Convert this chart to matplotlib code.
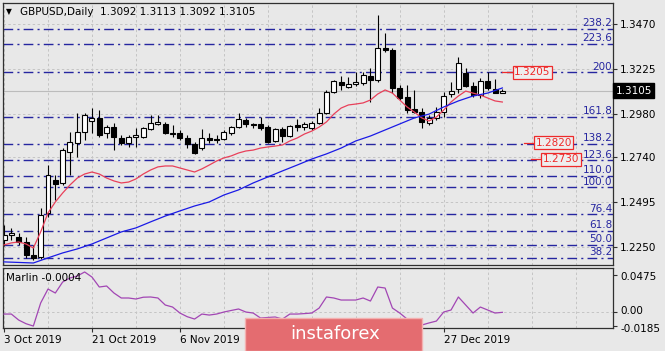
import matplotlib
matplotlib.use('Agg')
import matplotlib.pyplot as plt
import matplotlib.transforms as mtransforms
from matplotlib.patches import Rectangle

# GBPUSD daily bars from 3 Oct 2019
opens = [1.2288, 1.2316, 1.2305, 1.2277, 1.2206, 1.2195, 1.2436, 1.2616, 1.2600, 1.2770,
         1.2819, 1.2879, 1.2939, 1.2956, 1.2873, 1.2906, 1.2846, 1.2819, 1.2852, 1.2852,
         1.2895, 1.2923, 1.2923, 1.2873, 1.2873, 1.2846, 1.2813, 1.2791, 1.2846, 1.2841,
         1.2841, 1.2873, 1.2906, 1.2945, 1.2920, 1.2923, 1.2906, 1.2830, 1.2895, 1.2857,
         1.2917, 1.2906, 1.2901, 1.2928, 1.2983, 1.3098, 1.3152, 1.3125, 1.3142, 1.3147,
         1.3185, 1.3163, 1.3339, 1.3328, 1.3120, 1.3070, 1.3005, 1.2988, 1.2928, 1.2956,
         1.2988, 1.3087, 1.3114, 1.3202, 1.3131, 1.3081, 1.3158, 1.3114, 1.3092]
highs = [1.2370, 1.2354, 1.2326, 1.2305, 1.2261, 1.2463, 1.2698, 1.2644, 1.2791, 1.2879,
         1.2983, 1.2983, 1.3010, 1.2999, 1.2917, 1.2928, 1.2863, 1.2863, 1.2901, 1.2906,
         1.2972, 1.2972, 1.2934, 1.2917, 1.2890, 1.2863, 1.2824, 1.2895, 1.2873, 1.2863,
         1.2890, 1.2912, 1.2983, 1.2956, 1.2928, 1.2961, 1.2917, 1.2901, 1.2906, 1.2917,
         1.2950, 1.2934, 1.2939, 1.3010, 1.3109, 1.3163, 1.3185, 1.3180, 1.3207, 1.3207,
         1.3229, 1.3519, 1.3420, 1.3339, 1.3136, 1.3136, 1.3109, 1.3010, 1.2972, 1.3016,
         1.3098, 1.3152, 1.3289, 1.3229, 1.3152, 1.3174, 1.3207, 1.3169, 1.3113]
lows = [1.2255, 1.2288, 1.2261, 1.2190, 1.2179, 1.2184, 1.2414, 1.2507, 1.2589, 1.2644,
        1.2742, 1.2835, 1.2873, 1.2852, 1.2846, 1.2780, 1.2808, 1.2797, 1.2797, 1.2846,
        1.2890, 1.2917, 1.2868, 1.2852, 1.2835, 1.2791, 1.2760, 1.2780, 1.2819, 1.2819,
        1.2835, 1.2863, 1.2901, 1.2906, 1.2901, 1.2890, 1.2819, 1.2824, 1.2824, 1.2852,
        1.2884, 1.2890, 1.2890, 1.2923, 1.2978, 1.3092, 1.3109, 1.3120, 1.3131, 1.3136,
        1.3043, 1.3152, 1.3317, 1.3092, 1.3054, 1.2983, 1.2983, 1.2901, 1.2917, 1.2945,
        1.2961, 1.3070, 1.3092, 1.3125, 1.3070, 1.3065, 1.3109, 1.3092, 1.3092]
closes = [1.2316, 1.2326, 1.2277, 1.2206, 1.2190, 1.2425, 1.2644, 1.2595, 1.2780, 1.2824,
          1.2879, 1.2972, 1.2956, 1.2863, 1.2906, 1.2852, 1.2819, 1.2852, 1.2863, 1.2901,
          1.2928, 1.2934, 1.2873, 1.2868, 1.2846, 1.2813, 1.2764, 1.2846, 1.2835, 1.2835,
          1.2879, 1.2906, 1.2950, 1.2923, 1.2917, 1.2901, 1.2824, 1.2895, 1.2857, 1.2912,
          1.2906, 1.2923, 1.2928, 1.2983, 1.3098, 1.3158, 1.3136, 1.3142, 1.3152, 1.3191,
          1.3163, 1.3339, 1.3328, 1.3120, 1.3065, 1.2999, 1.2988, 1.2934, 1.2956, 1.2988,
          1.3076, 1.3103, 1.3256, 1.3131, 1.3081, 1.3158, 1.3120, 1.3092, 1.3105]

# red (fast) moving average, one value per bar
ma_fast = [1.2261, 1.2272, 1.2277, 1.2266, 1.2244, 1.2332, 1.2436, 1.2496, 1.2545, 1.2589,
           1.2627, 1.2649, 1.2660, 1.2649, 1.2627, 1.2611, 1.2600, 1.2605, 1.2622, 1.2649,
           1.2671, 1.2688, 1.2693, 1.2693, 1.2682, 1.2671, 1.2660, 1.2677, 1.2698, 1.2720,
           1.2737, 1.2748, 1.2764, 1.2775, 1.2780, 1.2791, 1.2797, 1.2802, 1.2808, 1.2830,
           1.2846, 1.2868, 1.2884, 1.2906, 1.2934, 1.2977, 1.3010, 1.3027, 1.3032, 1.3038,
           1.3054, 1.3087, 1.3109, 1.3092, 1.3054, 1.3016, 1.2988, 1.2956, 1.2939, 1.2961,
           1.2999, 1.3043, 1.3076, 1.3103, 1.3092, 1.3081, 1.3065, 1.3049, 1.3043]

# blue (slow) moving average, read every other bar
ma_slow_idx = [0, 4, 6, 8, 10, 12, 14, 16, 18, 20, 22, 24, 26, 28, 30, 32, 34,
               36, 38, 40, 42, 44, 46, 48, 50, 52, 54, 56, 58, 60, 62, 64, 66, 68]
ma_slow = [1.2168, 1.2162, 1.2190, 1.2217, 1.2239, 1.2266, 1.2299, 1.2332, 1.2354, 1.2387,
           1.2419, 1.2447, 1.2474, 1.2496, 1.2534, 1.2562, 1.2600, 1.2633, 1.2666, 1.2698,
           1.2731, 1.2759, 1.2791, 1.2830, 1.2857, 1.2890, 1.2923, 1.2956, 1.2977, 1.3016,
           1.3049, 1.3076, 1.3092, 1.3120]

# Marlin oscillator
marlin = [-0.0026, -0.0026, -0.0103, -0.0150, -0.0180, 0.0116, 0.0295, 0.0244, 0.0385, 0.0437,
          0.0462, 0.0514, 0.0449, 0.0321, 0.0334, 0.0244, 0.0180, 0.0180, 0.0167, 0.0190,
          0.0193, 0.0180, 0.0090, 0.0064, -0.0013, -0.0060, -0.0090, -0.0026, -0.0039, -0.0026,
          0.0000, 0.0020, 0.0039, 0.0000, -0.0013, -0.0077, -0.0070, -0.0064, -0.0090, -0.0026,
          -0.0026, -0.0020, -0.0013, 0.0051, 0.0193, 0.0180, 0.0154, 0.0154, 0.0154, 0.0180,
          0.0141, 0.0321, 0.0308, 0.0051, -0.0013, -0.0090, -0.0141, -0.0167, -0.0140, -0.0116,
          0.0000, 0.0026, 0.0193, 0.0090, -0.0013, 0.0064, 0.0026, -0.0013, -0.0004]

# fibonacci levels
fib_labels = ['238.2', '223.6', '200', '161.8', '138.2', '123.6', '110.0', '100.0',
              '76.4', '61.8', '50.0', '38.2']
fib_prices = [1.3443, 1.3361, 1.3205, 1.2963, 1.2816, 1.2724, 1.2638, 1.2577,
              1.2429, 1.2337, 1.2263, 1.2190]

# target levels marked in red
targets = [1.3205, 1.2820, 1.2730]
target_labels = ['1.3205', '1.2820', '1.2730']

price_ticks = [1.3470, 1.3225, 1.2980, 1.2740, 1.2495, 1.2250]
marlin_ticks = [0.0475, 0.0, -0.0185]
marlin_tick_labels = ['0.0475', '0.00', '-0.0185']
date_pos = [0, 12, 24, 60]
date_labels = ['3 Oct 2019', '21 Oct 2019', '6 Nov 2019', '27 Dec 2019']
last_price = 1.3105

BG = '#e8e8e8'
FIB_C = '#2626a0'
RED = '#ee2a2a'
plt.rcParams['font.family'] = ['DejaVu Sans']
plt.rcParams['font.size'] = 7.5

W, H = 665, 351


def fx(px):
    return px / W


def fy(py):
    return 1 - py / H


fig = plt.figure(figsize=(W / 100, H / 100), dpi=100, facecolor=BG)
ax = fig.add_axes([fx(3), fy(265), 610 / W, 262 / H], facecolor=BG)
ax2 = fig.add_axes([fx(3), fy(328), 610 / W, 60 / H], facecolor=BG)

xmin, xmax = -0.14, 83.1
for a in (ax, ax2):
    a.set_xlim(xmin, xmax)
    for s in a.spines.values():
        s.set_color('#303030')
        s.set_linewidth(0.9)
    for k in range(0, 84, 6):
        a.axvline(k, color='#c4c4c4', lw=0.7, ls=(0, (2.5, 2.5)), zorder=0)

# ---- main panel
ax.set_ylim(1.2151, 1.3585)
ax.set_xticks([])
ax.yaxis.tick_right()
ax.set_yticks(price_ticks)
ax.set_yticklabels(['%.4f' % p for p in price_ticks])
ax.tick_params(axis='y', length=3, pad=2, labelsize=7.5, color='#303030')
for p in price_ticks:
    ax.axhline(p, color='#c4c4c4', lw=0.7, ls=(0, (2.5, 2.5)), zorder=0)

for lbl, p in zip(fib_labels, fib_prices):
    ax.axhline(p, color=FIB_C, lw=1.0, dashes=(7, 3, 1.5, 3), zorder=1)
    ax.text(xmax - 0.1, p + 0.0003, lbl, color=FIB_C, ha='right', va='bottom',
            fontsize=7.5, zorder=1)

ax.axhline(last_price, color='#bcbcbc', lw=0.8, zorder=1)

xs = list(range(len(closes)))
ax.vlines(xs, lows, highs, color='black', lw=0.8, zorder=2)
for i in xs:
    o, c = opens[i], closes[i]
    bottom = min(o, c)
    height = max(abs(c - o), 0.00015)
    ax.add_patch(Rectangle((i - 0.34, bottom), 0.68, height,
                           facecolor='white' if c >= o else 'black',
                           edgecolor='black', lw=0.8, zorder=2))

ax.plot(xs, ma_fast, color='#e8405a', lw=0.9, zorder=3)
ax.plot(ma_slow_idx, ma_slow, color='#1a1ae6', lw=0.9, zorder=3)

# red target labels
label_x = [69.5, 72.4, 73.4]
for p, t, lx in zip(targets, target_labels, label_x):
    ax.plot([lx - 1.5, lx], [p, p], color=RED, lw=0.9, zorder=4)
    ax.text(lx + 0.1, p, t, color=RED, ha='left', va='center', fontsize=7.5, zorder=5,
            bbox=dict(boxstyle='square,pad=0.15', facecolor='#eeeeee', edgecolor=RED, lw=0.9))

trans = mtransforms.blended_transform_factory(ax.transAxes, ax.transData)
ax.text(1.004, last_price, '1.3105', transform=trans, color='white', ha='left', va='center',
        fontsize=7.5, bbox=dict(boxstyle='square,pad=0.25', facecolor='black', edgecolor='black'),
        clip_on=False, zorder=6)

fig.text(fx(6), fy(12), '\u25bc', fontsize=5.5, ha='left', va='center')
fig.text(fx(20), fy(12), 'GBPUSD,Daily  1.3092 1.3113 1.3092 1.3105', fontsize=7.5,
         ha='left', va='center')

# ---- Marlin panel
ax2.set_ylim(-0.0205, 0.0565)
ax2.plot(xs, marlin, color='#a246b4', lw=0.9, zorder=3)
ax2.axhline(0, color='#c4c4c4', lw=0.7, ls=(0, (2.5, 2.5)), zorder=0)
ax2.yaxis.tick_right()
ax2.set_yticks(marlin_ticks)
ax2.set_yticklabels([])
ax2.tick_params(axis='y', length=3, labelsize=7.5, color='#303030')
trans2 = mtransforms.blended_transform_factory(ax2.transAxes, ax2.transData)
# nudge labels apart so 0.00 and -0.0185 do not collide
shifts = [-2, 1, -3]
for v, t, dy in zip(marlin_ticks, marlin_tick_labels, shifts):
    tr = mtransforms.offset_copy(trans2, fig=fig, x=0, y=dy, units='dots')
    ax2.text(1.012, v, t, transform=tr, ha='left', va='center', fontsize=7.5,
             clip_on=False)

ax2.set_xticks(date_pos)
ax2.set_xticklabels(date_labels)
for t in ax2.get_xticklabels():
    t.set_horizontalalignment('left')
ax2.tick_params(axis='x', length=3, pad=2, labelsize=7.5, color='#303030')
fig.text(fx(6), fy(278), 'Marlin -0.0004', fontsize=7.5, ha='left', va='center')

# watermark
fig.patches.append(Rectangle((fx(245), 0), 177 / W, 33 / H, transform=fig.transFigure,
                             facecolor='#e46c70', edgecolor='#f3b0b0', lw=1.0, zorder=10))
fig.text(fx(290), fy(334), 'instaforex', color='white', fontsize=13, ha='left',
         va='center', zorder=11)

fig.savefig('out.png', dpi=100, facecolor=BG)
